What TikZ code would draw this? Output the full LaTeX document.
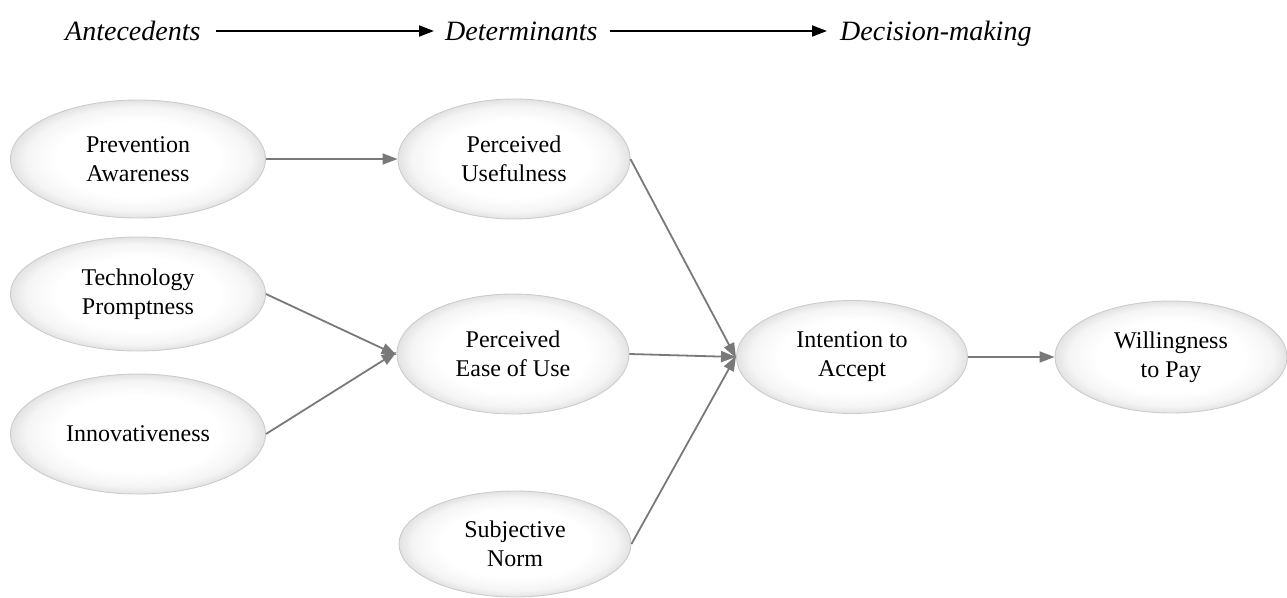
\documentclass[tikz,border=0pt]{standalone}
\usepackage{fontspec}
\setmainfont{Liberation Serif}
\usetikzlibrary{shapes.geometric,arrows.meta}
\pgfdeclareradialshading{ellshade}{\pgfpoint{0bp}{0bp}}{%
  color(0bp)=(white); color(16bp)=(white); color(22bp)=(gray!8);
  color(25bp)=(gray!22); color(50bp)=(gray!22)}
\begin{document}
\begin{tikzpicture}[x=1pt,y=-1pt,
  construct/.style={ellipse, draw=gray!40, line width=0.9pt,
    shading=ellshade,
    minimum width=#1, minimum height=116pt, inner sep=0pt, align=center,
    font=\fontsize{24}{29}\selectfont},
  construct/.default=232pt,
  header/.style={inner sep=0pt, font=\itshape\fontsize{28}{32}\selectfont},
  hdrarrow/.style={black, line width=1.8pt, -{Triangle[length=15pt,width=11pt]}},
  link/.style={color=gray!95!black, line width=1.8pt, -{Triangle[length=15pt,width=11pt]}}]
\useasboundingbox (0,0) rectangle (1287,597);

% header
\node[header, anchor=base west] (ant) at (65,40) {Antecedents};
\node[header, anchor=base west] (det) at (445,40) {Determinants};
\node[header, anchor=base west] (dec) at (840,40) {Decision-making};
\draw[hdrarrow] ([xshift=15pt,yshift=9pt]ant.base east) -- ([xshift=-11pt,yshift=9pt]det.base west);
\draw[hdrarrow] ([xshift=12pt,yshift=9pt]det.base east) -- ([xshift=-13pt,yshift=9pt]dec.base west);

% constructs
\node[construct=255pt, minimum height=118pt] (pa) at (138,159) {Prevention\\Awareness};
\node[construct=255pt, minimum height=114pt] (tp) at (138,294) {Technology\\Promptness};
\node[construct=255pt, minimum height=120pt] (inn) at (138,434) {Innovativeness};
\node[construct, minimum height=120pt] (pu) at (514,159) {Perceived\\Usefulness};
\node[construct, minimum height=120pt] (peou) at (513,354) {Perceived\\Ease of Use};
\node[construct, minimum height=106pt] (sn) at (515,544) {Subjective\\Norm};
\node[construct=231pt, minimum height=113pt] (ia) at (852,357) {Intention to\\Accept};
\node[construct, minimum height=112pt] (wp) at (1171,357) {Willingness\\to Pay};

% links
\draw[link] (pa.east) -- (pu.west);
\draw[link] (tp.east) -- ([yshift=-1pt]peou.west);
\draw[link] (inn.east) -- ([yshift=2pt]peou.west);
\draw[link] (pu.east) -- ([yshift=-1pt]ia.west);
\draw[link] (peou.east) -- (ia.west);
\draw[link] (sn.east) -- ([yshift=1pt]ia.west);
\draw[link] (ia.east) -- (wp.west);
\end{tikzpicture}
\end{document}
